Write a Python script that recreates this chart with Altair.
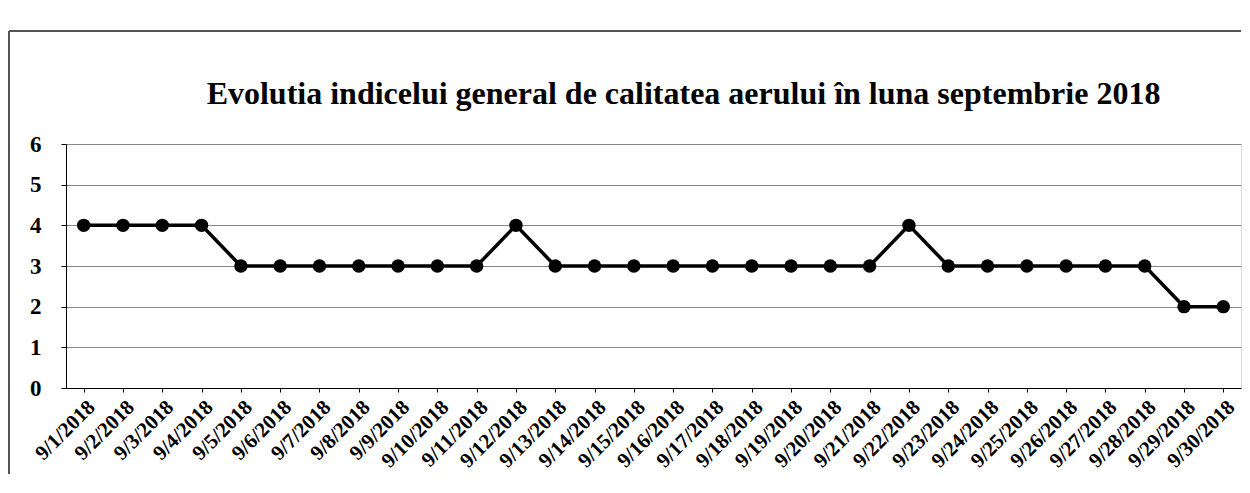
import altair as alt
import pandas as pd

dates = [f"9/{d}/2018" for d in range(1, 31)]
values = [4, 4, 4, 4, 3, 3, 3, 3, 3, 3, 3, 4, 3, 3, 3, 3, 3, 3, 3, 3, 3, 4, 3, 3, 3, 3, 3, 3, 2, 2]
title_text = "Evolutia indicelui general de calitatea  aerului în luna septembrie 2018"

df = pd.DataFrame({"data": dates, "indice": values})

FONT = "Liberation Serif"

x = alt.X("data:O", sort=dates, title=None,
          scale=alt.Scale(type="point", padding=0.45),
          axis=alt.Axis(labelAngle=-45, labelFont=FONT, labelFontSize=21,
                        labelFontWeight="bold", labelColor="black",
                        domainColor="black", tickColor="black", tickSize=4,
                        labelPadding=4, grid=False))
y = alt.Y("indice:Q", title=None,
          scale=alt.Scale(domain=[0, 6]),
          axis=alt.Axis(values=[0, 1, 2, 3, 4, 5, 6], labelFont=FONT, labelFontSize=23,
                        labelFontWeight="bold", labelColor="black",
                        domainColor="black", tickColor="black", labelPadding=20,
                        gridColor="#888888", gridWidth=1))

base = alt.Chart(df)
line = base.mark_line(color="black", strokeWidth=3.5).encode(x=x, y=y)
pts = base.mark_circle(color="black", size=180, opacity=1).encode(x=x, y=y)

frame_left = alt.Chart(df).mark_rule(color="#555555", strokeWidth=1).encode(
    x=alt.value(-57), y=alt.value(-113), y2=alt.value(330))
frame_top = alt.Chart(df).mark_rule(color="#555555", strokeWidth=1).encode(
    x=alt.value(-57), x2=alt.value(1175), y=alt.value(-113))

chart = alt.layer(frame_left, frame_top, line, pts).properties(
    width=1175, height=244,
    title=alt.TitleParams(title_text, font=FONT, fontSize=32, fontWeight="bold",
                          color="black", anchor="middle", offset=-80, dx=30),
    padding={"left": 0, "top": 22, "right": 0, "bottom": 0},
).configure_view(stroke=None).configure(background="white")

chart.save("out.html", embed_options={"renderer": "svg", "actions": False})
